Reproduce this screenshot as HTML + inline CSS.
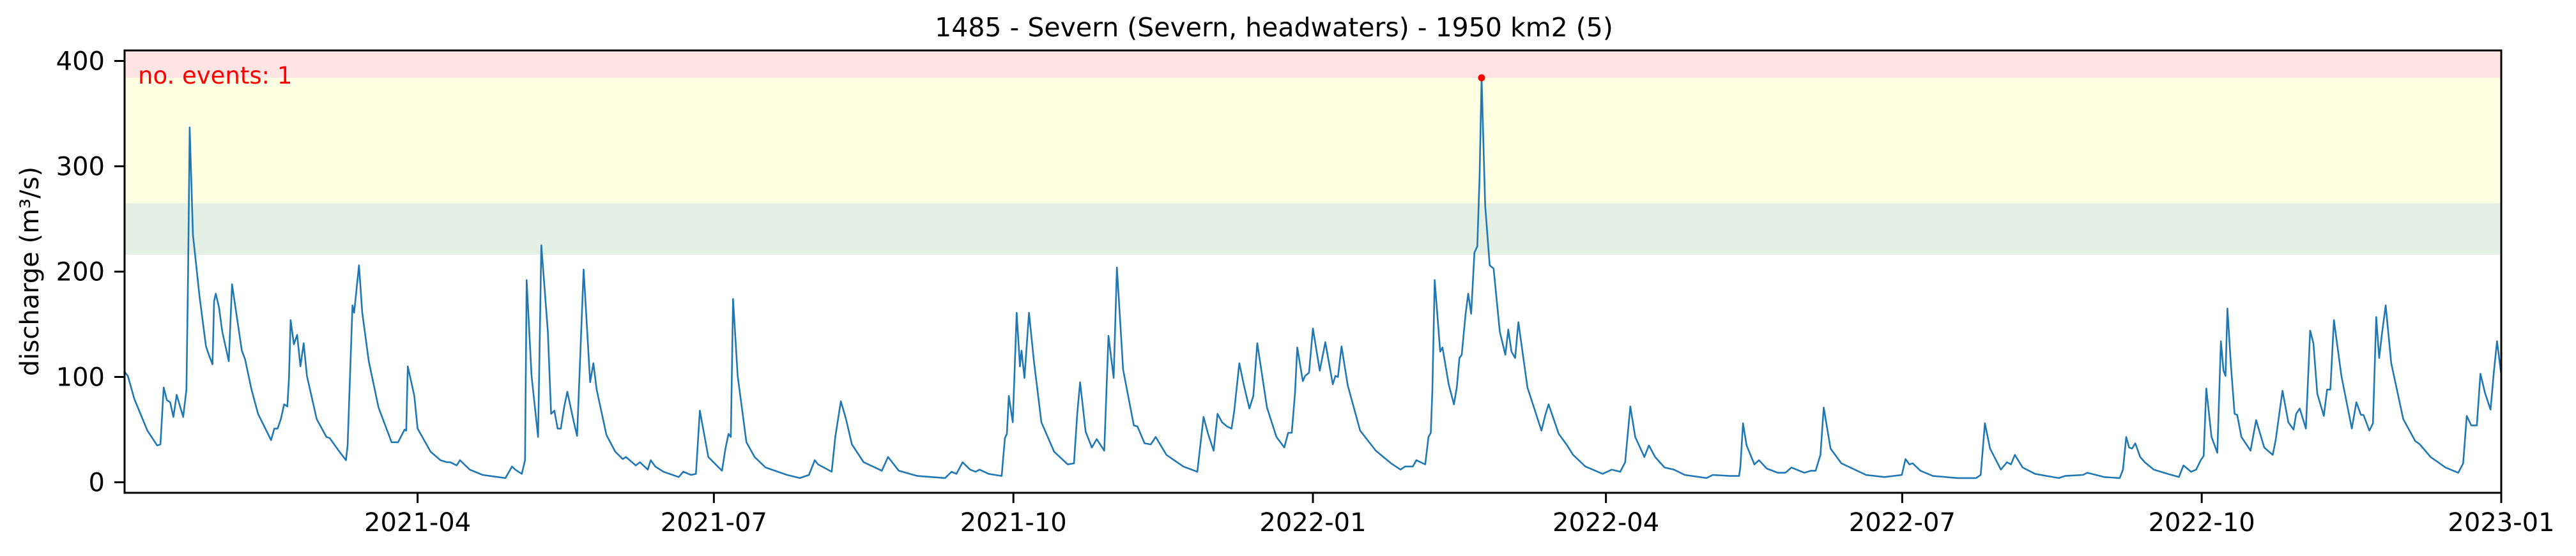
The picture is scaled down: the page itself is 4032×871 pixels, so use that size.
<!DOCTYPE html>
<html>
<head>
<meta charset="utf-8">
<style>
html,body{margin:0;padding:0;background:#fff;}
svg{display:block;}
text{font-family:"DejaVu Sans","Liberation Sans",sans-serif;}
</style>
</head>
<body>
<svg id="chart" width="4032" height="871" viewBox="0 0 4032 871" xmlns="http://www.w3.org/2000/svg">
  <defs>
    <clipPath id="plotclip"><rect x="195" y="79" width="3720" height="693"/></clipPath>
  </defs>
  <rect x="0" y="0" width="4032" height="871" fill="#ffffff"/>
  <g id="bands"></g>
  <g id="series" clip-path="url(#plotclip)"></g>
  <text x="216" y="131" font-size="37" fill="#ff0000">no. events: 1</text>
  <g id="axes"></g>
  <text x="1994" y="57" font-size="41" text-anchor="middle" fill="#000">1485 - Severn (Severn, headwaters) - 1950 km2 (5)</text>
  <text x="0" y="0" font-size="40" text-anchor="middle" fill="#000" transform="translate(60,425) rotate(-90)">discharge (m³/s)</text>
</svg>
<script>
// ---- data ----
const days = [0,1,3,7,10,11,12,13,14,15,16,18,19,19.5,20,21,23,25,26,27,27.5,28,29,30,32,33,35,36,37,39,41,45,46,47,48,49,50,50.5,51,52,53,54,55,56,59,62,63,66,68,68.5,70,70.5,72,73,75,78,82,84,86,86.5,87,89,90,94,97,99,100,102,103,106,110,117,119,120,122,123,123.5,125,127,128,130,131,132,133,134,135,136,138,139,141,143,144,145,148,
150.7,153,154,157,158.3,160.7,161.6,163,165.5,170.2,171.6,174,175.5,176.7,179.3,183.5,184.5,185.5,186.2,186.9,188.3,191,193.5,196.9,203.5,207.4,210.2,212,213,217.2,218.3,220,221.6,223.4,227,232.6,234.5,237.8,243.5,252,254,255.5,257.4,259.7,261.4,262.6,265.4,269.4,270.4,271,271.6,272.8,274,275,275.5,276.4,277.8,279.3,281.6,285.5,289.7,291.6,292.6,293.5,
295.2,297.1,298.6,300.9,301.6,302.2,303.8,304.8,306.7,310,311.1,313.3,315.2,316.7,320,325.2,329.5,331.4,332.8,334.5,335.7,337.1,338.6,340,340.8,342.4,343.8,345.5,346.7,347.9,350.9,353.8,356.2,357.4,358.5,359.5,360.2,361.9,362.6,363.8,365,367.1,368.8,371.1,371.9,372.7,373.8,375.7,379.5,384.3,389,391.9,393.3,395.7,396.8,399.5,400.5,401.2,401.7,402.4,404.1,404.8,406.7,408.3,409.2,410,410.7,411.9,412.7,413.6,414.6,415.5,416.2,416.8,417.9,419.3,420.5,422.4,424.1,425,426,427.1,428.1,430.9,435.2,436.4,437.4,440.5,443.1,
444.9,448.7,454,456.8,459.4,460.9,462.5,464,466.8,468.2,470.1,473,475.9,479.2,485.9,487.8,493,495.9,496.3,497.1,498.2,500.6,502,504.4,507.8,510.1,512,515.9,518,519.4,520.9,521.9,524,527.3,534.9,540.6,545.9,547,548.2,549.2,551.6,555.4,563,568.7,570.1,571.4,573,576.3,578.2,579.4,580.6,583,586.8,
590.4,594.1,596,601.5,602.9,608,612.8,613.8,614.8,615.7,616.6,617.6,619.1,620.5,623.3,627.5,631,632.4,634.7,636.3,637.7,638.6,639.4,641,642.8,643.9,644.7,645.3,645.9,647,648.1,648.9,650.2,653,654.7,657.2,659.8,660.7,662.8,664.6,666.2,667,668.1,670,671.3,672.3,673.5,675.5,676.5,677.5,678.6,680.9,684.1,685.5,686.9,687.7,689.5,690.6,691.6,692.5,693.4,694.5,696.2,697.6,699.9,703.6,705,708.3,712.9,716.8,718.3,719.4,720.8,722.5,723.6,725,726.7,727.8,728.7,730];
const discharge = [105,101,79,49,35,36,90,78,76,62,83,62,88,199,337,235,177,129,120,112,172,179,166,143,115,188,146,125,117,88,65,40,51,51,60,74,72,99,154,131,140,110,132,101,60,43,42,29,21,35,168,161,206,161,115,71,38,38,50,49,110,82,51,29,21,19,19,16,21,12,7,4,15,12,8,21,192,101,43,225,143,65,68,51,51,71,86,57,44,202,95,113,88,45,
29,22,24,16,19,12,21,15,10,5,10,7,8,68,24,11,31,46,43,174,101,38,24,14,7,4,7,21,17,10,43,77,60,36,19,11,24,11,6,4,10,8,19,12,10,12,8,6,42,46,82,57,161,110,125,99,161,115,57,29,17,18,65,95,
48,33,41,30,88,139,99,204,107,54,53,37,36,43,26,15,10,62,46,30,65,57,53,51,67,113,92,70,82,132,71,43,33,47,47,85,128,96,101,104,146,106,133,93,101,100,129,92,49,30,18,12,15,15,21,17,43,47,88,192,124,128,93,74,90,118,121,160,179,160,218,224,291,384,263,206,203,143,121,145,124,118,152,90,49,64,74,46,35,
26,15,8,12,10,19,72,43,24,35,24,14,12,7,4,7,6,6,15,56,35,17,21,13,9,9,14,9,11,11,26,71,32,18,7,5,7,22,17,18,11,6,4,4,7,56,32,12,19,17,26,14,8,
6,4,6,7,9,5,4,12,43,33,32,37,24,19,12,8,5,16,10,12,21,25,89,43,28,134,106,101,165,110,65,64,43,30,59,33,26,40,87,57,50,65,70,51,144,132,84,63,88,88,154,101,51,76,64,64,49,56,157,118,142,168,113,93,60,39,36,24,14,9,18,63,54,54,103,85,69,107,134,102];
const yTickValues = [0,100,200,300,400];
const xTickDays = [90,181,273,365,455,546,638,730];
const xTickLabels = ["2021-04","2021-07","2021-10","2022-01","2022-04","2022-07","2022-10","2023-01"];
const bandLows = [216,265,384];
const bandHighs = [265,384,410];
const bandNames = ["band-green","band-yellow","band-red"];
const bandColors = ["#e5f0e5","#ffffe3","#ffe4e4"];
const eventDays = [416.8];
const eventValues = [384];

// ---- axes ----
const X0=195, X1=3915, Y0=772, Y1=79;
const DMIN=0, DMAX=730, VMIN=-10, VMAX=410;
const NS="http://www.w3.org/2000/svg";
function xs(d){return X0+(d-DMIN)/(DMAX-DMIN)*(X1-X0);}
function ys(v){return Y0-(v-VMIN)/(VMAX-VMIN)*(Y0-Y1);}
function mk(tag,attrs,parent){const e=document.createElementNS(NS,tag);for(const k in attrs)e.setAttribute(k,attrs[k]);parent.appendChild(e);return e;}

const bands=document.getElementById('bands');
for(let i=0;i<bandLows.length;i++){
  const r=mk('rect',{x:X0,y:ys(bandHighs[i]),width:X1-X0,height:ys(bandLows[i])-ys(bandHighs[i]),fill:bandColors[i]},bands);
  
  
}

const series=document.getElementById('series');
let dstr='';
for(let i=0;i<days.length;i++){dstr+=(i?'L':'M')+xs(days[i]).toFixed(1)+' '+ys(discharge[i]).toFixed(1);}
const line=mk('path',{d:dstr,fill:'none',stroke:'#1f77b4','stroke-width':2.6,'stroke-linejoin':'round'},series);


for(let i=0;i<eventDays.length;i++){
  const c=mk('circle',{cx:xs(eventDays[i]),cy:ys(eventValues[i]),r:5.5,fill:'#ff0000'},series);
  
  
}

const axes=document.getElementById('axes');
const frame=mk('rect',{x:X0,y:Y1,width:X1-X0,height:Y0-Y1,fill:'none',stroke:'#000','stroke-width':3},axes);


for(let i=0;i<yTickValues.length;i++){
  const y=ys(yTickValues[i]);
  const t=mk('line',{x1:X0-16,x2:X0,y1:y,y2:y,stroke:'#000','stroke-width':3},axes);
  
  
  const l=mk('text',{x:X0-31,y:y+14,'font-size':40,'text-anchor':'end',fill:'#000'},axes);
  l.textContent=String(yTickValues[i]);
  
  
}
for(let i=0;i<xTickDays.length;i++){
  const x=xs(xTickDays[i]);
  const t=mk('line',{x1:x,x2:x,y1:Y0,y2:Y0+16,stroke:'#000','stroke-width':3},axes);
  
  
  const l=mk('text',{x:x,y:Y0+60,'font-size':40,'text-anchor':'middle',fill:'#000'},axes);
  l.textContent=xTickLabels[i];
  
  
}
</script>
</body>
</html>
